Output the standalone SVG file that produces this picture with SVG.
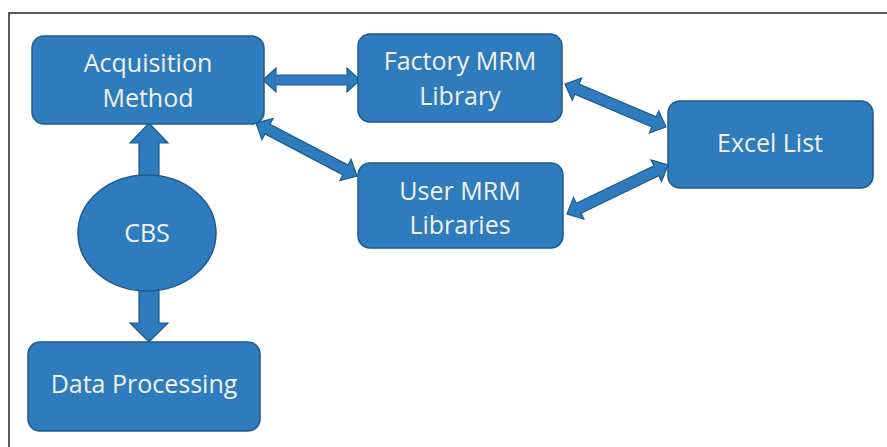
<svg xmlns="http://www.w3.org/2000/svg" width="887" height="447" viewBox="0 0 887 447">
  <defs>
    <style>
      .node { fill: #2e7bbd; stroke: #1f5a8c; stroke-width: 1.5; }
      .arr { fill: #2e7bbd; stroke: #1f5a8c; stroke-width: 1.2; stroke-linejoin: miter; }
      .lbl { font-family: "Open Sans", "Liberation Sans", sans-serif; font-size: 25px; fill: #f2f2f2; text-anchor: middle; }
      .frame { fill: none; stroke: #5a5a5a; stroke-width: 2; }
    </style>
  </defs>
  <rect width="887" height="447" fill="#ffffff"/>
  <polyline class="frame" points="9,447 9,13 887,13"/>

  <g id="connectors">
    <!-- Acquisition <-> Factory -->
    <polygon class="arr" transform="translate(263,80)" points="0,0 13,-12 13,-5 84,-5 84,-12 97,0 84,12 84,5 13,5 13,12"/>
    <!-- Acquisition <-> User -->
    <polygon class="arr" transform="translate(256,123) rotate(27.69)" points="0,0 13,-12 13,-5.5 101.1,-5.5 101.1,-12 114.1,0 101.1,12 101.1,5.5 13,5.5 13,12"/>
    <!-- Factory <-> Excel -->
    <polygon class="arr" transform="translate(565,84) rotate(23.06)" points="0,0 13,-12 13,-5.5 96.8,-5.5 96.8,-12 109.8,0 96.8,12 96.8,5.5 13,5.5 13,12"/>
    <!-- User <-> Excel -->
    <polygon class="arr" transform="translate(567,214) rotate(-25.88)" points="0,0 13,-12 13,-5.5 99.3,-5.5 99.3,-12 112.3,0 99.3,12 99.3,5.5 13,5.5 13,12"/>
    <!-- CBS -> Acquisition -->
    <polygon class="arr" points="149,123 168,143 159,143 159,182 139,182 139,143 130,143"/>
    <!-- CBS -> Data Processing -->
    <polygon class="arr" points="139,285 159,285 159,323 168,323 149,342 130,323 139,323"/>
  </g>

  <g id="acquisition">
    <rect class="node" x="32" y="36" width="232" height="88" rx="12"/>
    <text class="lbl" x="148" y="72">Acquisition</text>
    <text class="lbl" x="148" y="107">Method</text>
  </g>
  <g id="factory">
    <rect class="node" x="358" y="34" width="204" height="88" rx="12"/>
    <text class="lbl" x="460" y="70">Factory MRM</text>
    <text class="lbl" x="460" y="105">Library</text>
  </g>
  <g id="user">
    <rect class="node" x="358" y="163" width="205" height="85" rx="12"/>
    <text class="lbl" x="460" y="200">User MRM</text>
    <text class="lbl" x="460" y="234">Libraries</text>
  </g>
  <g id="excel">
    <rect class="node" x="668" y="101" width="205" height="87" rx="12"/>
    <text class="lbl" x="770" y="152">Excel List</text>
  </g>
  <g id="cbs">
    <ellipse class="node" cx="147" cy="233" rx="69" ry="58"/>
    <text class="lbl" x="147" y="242">CBS</text>
  </g>
  <g id="data-processing">
    <rect class="node" x="28" y="342" width="232" height="89" rx="12"/>
    <text class="lbl" x="144" y="393">Data Processing</text>
  </g>
</svg>
